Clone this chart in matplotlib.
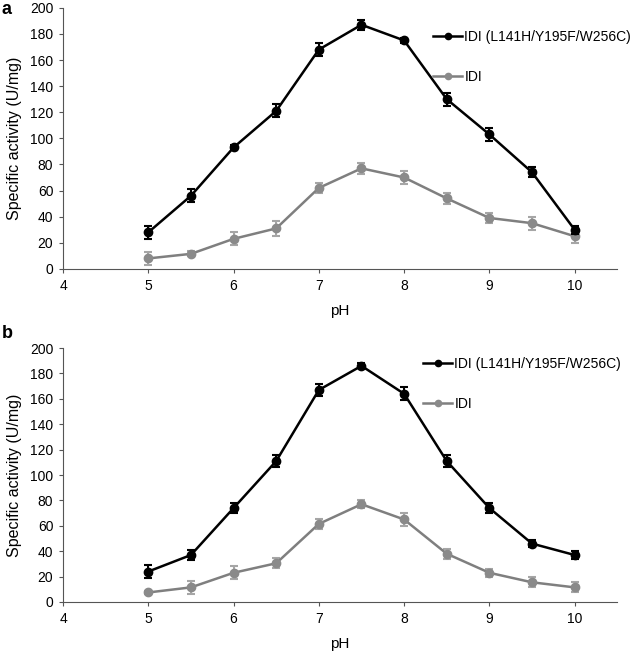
import matplotlib
matplotlib.use("Agg")
import matplotlib.pyplot as plt
from matplotlib.lines import Line2D

plt.rcParams['font.family'] = ['Liberation Sans', 'DejaVu Sans']

ph = [5, 5.5, 6, 6.5, 7, 7.5, 8, 8.5, 9, 9.5, 10]

# panel a
mut_a = [28, 56, 93, 121, 168, 187, 175, 130, 103, 74, 30]
mut_a_err = [5, 5, 2, 5, 5, 4, 2, 5, 5, 4, 3]
wt_a = [8, 11.5, 23, 31, 62, 77, 70, 54, 39, 35, 25]
wt_a_err = [5, 2, 5, 6, 4, 4, 5, 4, 4, 5, 5]

# panel b
mut_b = [24, 37, 74, 111, 167, 186, 164, 111, 74, 46, 37]
mut_b_err = [5, 4, 4, 5, 5, 2, 5, 5, 4, 3, 3]
wt_b = [7.5, 11.5, 23, 30.5, 61.5, 77, 65, 38, 23, 15.5, 11.5]
wt_b_err = [1.5, 5, 5, 4, 4, 3, 5, 4, 3, 4, 4]

labels = ['IDI (L141H/Y195F/W256C)', 'IDI']
W, H = 637, 651
# letter, data, axes rect, legend anchor (fig px), letter y (fig px)
panels = [
    ('a', mut_a, mut_a_err, wt_a, wt_a_err, [0.099, 0.587, 0.870, 0.401], (433, 30), 9),
    ('b', mut_b, mut_b_err, wt_b, wt_b_err, [0.099, 0.0753, 0.870, 0.390], (423, 357), 334),
]

fig = plt.figure(figsize=(W / 100, H / 100), dpi=100)

for letter, mut, mut_err, wt, wt_err, rect, leg_xy, let_y in panels:
    ax = fig.add_axes(rect)
    ax.errorbar(ph, mut, yerr=mut_err, color='black', marker='o', markersize=6,
                lw=1.8, ecolor='black', elinewidth=1.5, capsize=3, capthick=1.5,
                zorder=3)
    ax.errorbar(ph, wt, yerr=wt_err, color='#7f7f7f', marker='o', markersize=6,
                mfc='#8a8a8a', mec='#8a8a8a', lw=1.8, ecolor='#a6a6a6',
                elinewidth=1.5, capsize=3, capthick=1.5, zorder=2)
    ax.set_xlim(4, 10.5)
    ax.set_ylim(0, 200)
    ax.set_xticks([4, 5, 6, 7, 8, 9, 10])
    ax.set_yticks(range(0, 201, 20))
    ax.spines['top'].set_visible(False)
    ax.spines['right'].set_visible(False)
    ax.spines['left'].set_color('#555555')
    ax.spines['bottom'].set_color('#555555')
    ax.tick_params(labelsize=10, length=3, color='#555555', pad=4)
    ax.set_xlabel('pH', fontsize=11, labelpad=8)
    ax.set_ylabel('Specific activity (U/mg)', fontsize=11.5, labelpad=6)

    handles = [
        Line2D([], [], color='black', lw=1.8, marker='o', markersize=4.5),
        Line2D([], [], color='#7f7f7f', lw=1.8, marker='o', markersize=4.5,
               mfc='#8a8a8a', mec='#8a8a8a'),
    ]
    fig.legend(handles, labels, loc='upper left',
               bbox_to_anchor=(leg_xy[0] / W, 1 - leg_xy[1] / H),
               frameon=False, fontsize=10, handlelength=2.1,
               labelspacing=1.85, handletextpad=0.15, borderpad=0,
               borderaxespad=0)
    fig.text(2 / W, 1 - let_y / H, letter, fontsize=13, fontweight='bold',
             va='center', ha='left')

fig.savefig('out.png', dpi=100)
